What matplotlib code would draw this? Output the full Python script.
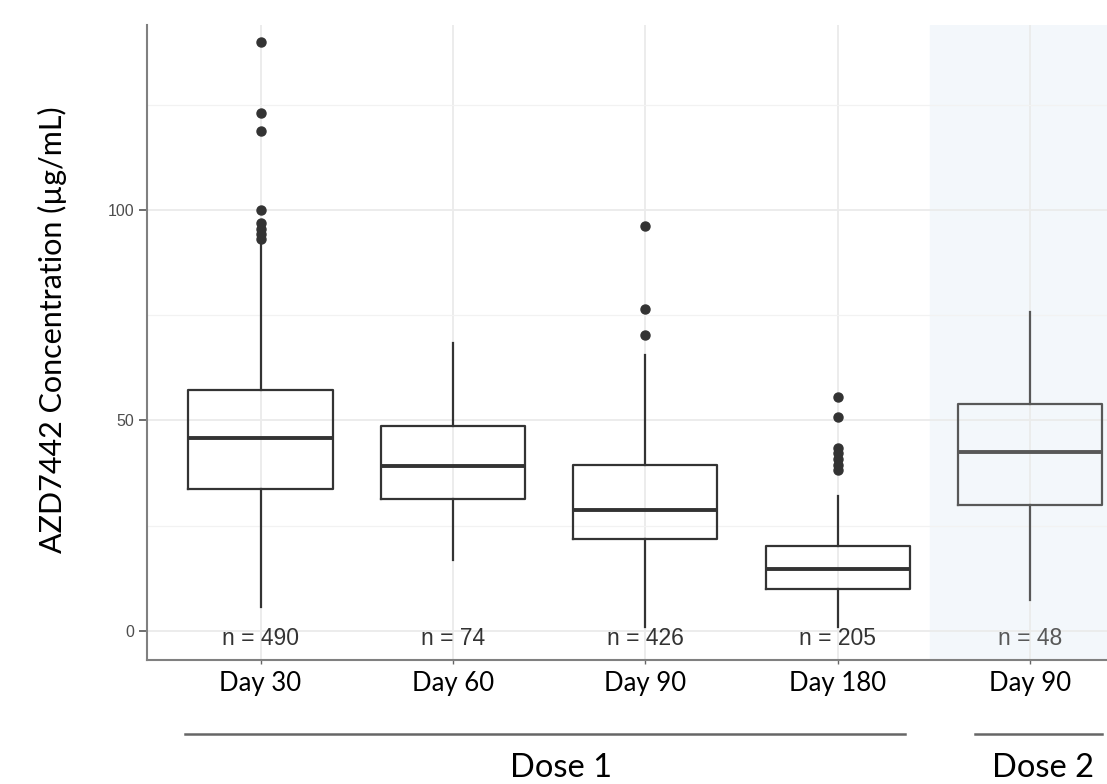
import matplotlib
matplotlib.use("Agg")
import matplotlib.pyplot as plt
from matplotlib.lines import Line2D

# -----------------------------
# Data
# -----------------------------
labels = ["Day 30", "Day 60", "Day 90", "Day 180", "Day 90"]
n_counts = [490, 74, 426, 205, 48]
q1 = [33.7, 31.4, 21.9, 9.9, 29.9]
med = [45.8, 39.2, 28.7, 14.8, 42.5]
q3 = [57.3, 48.7, 39.5, 20.1, 53.8]
whislo = [5.8, 16.9, 0.9, 1.0, 7.4]
whishi = [92.3, 68.3, 65.5, 32.1, 75.7]
fliers = [
    [139.9, 122.9, 118.7, 99.9, 96.9, 95.5, 94.2, 93.1],
    [],
    [96.2, 76.4, 70.3],
    [55.5, 50.9, 43.5, 42.2, 40.9, 39.5, 38.2],
    [],
]
groups = ["Dose 1", "Dose 2"]

# -----------------------------
# Figure
# -----------------------------
W, H = 1107, 784
fig = plt.figure(figsize=(W / 100, H / 100), dpi=100)
ax = fig.add_axes([147 / W, 1 - 660 / H, 1 - 147 / W, (660 - 25) / H])

positions = list(range(1, len(labels) + 1))
stats = []
for i in range(len(labels)):
    stats.append(dict(q1=q1[i], med=med[i], q3=q3[i], whislo=whislo[i],
                      whishi=whishi[i], fliers=fliers[i]))

dark = "#333333"
soft = "#585858"
for i, st in enumerate(stats):
    c = dark if i < 4 else soft
    ax.bxp([st], positions=[positions[i]], widths=0.75, showcaps=False,
           boxprops=dict(color=c, lw=1.6),
           whiskerprops=dict(color=c, lw=1.6),
           medianprops=dict(color=c, lw=2.8),
           flierprops=dict(marker="o", markerfacecolor=dark, markeredgecolor=dark,
                           markersize=6.5, linestyle="none"))

# shaded Dose 2 region
ax.axvspan(4.48, 6, color="#f3f7fb", zorder=0.1)

ax.set_xlim(0.41, 5.40)
ax.set_ylim(-6.9, 143.9)

ax.set_axisbelow(True)
ax.set_yticks([0, 50, 100])
ax.set_yticks([25, 75, 125], minor=True)
ax.grid(which="major", color="#ebebeb", lw=1.3)
ax.grid(which="minor", axis="y", color="#f2f2f2", lw=0.9)

ax.set_xticks(positions)
ax.set_xticklabels(labels, fontsize=18.5, family="Lato", color="black")
ax.tick_params(axis="x", length=3, width=1, color="#666666", pad=5)
ax.tick_params(axis="y", which="major", length=6, width=1.2, color="#555555",
               labelsize=11.5, labelcolor="#4d4d4d", pad=3)
ax.tick_params(axis="y", which="minor", length=0)
for lab in ax.get_yticklabels():
    lab.set_family("Liberation Sans")

for side in ["top", "right"]:
    ax.spines[side].set_visible(False)
for side in ["left", "bottom"]:
    ax.spines[side].set_color("#808080")
    ax.spines[side].set_linewidth(1.5)

fig.text(52 / W, 1 - 330 / H, "AZD7442 Concentration (µg/mL)", rotation=90,
         ha="center", va="center", fontsize=22, family="Lato")

# sample sizes
for i, n in enumerate(n_counts):
    ax.text(positions[i], -1.9, f"n = {n}", ha="center", va="center", fontsize=16.5,
            family="Liberation Sans", color=dark if i < 4 else soft)

# group brackets below the axis
line_y = 1 - 734 / H
text_y = 1 - 768 / H
spans = [(185, 905), (975, 1102)]
text_x = [561, 1043]
for g, (x0, x1), tx in zip(groups, spans, text_x):
    fig.add_artist(Line2D([x0 / W, x1 / W], [line_y, line_y], color="#666666", lw=1.8,
                          transform=fig.transFigure))
    fig.text(tx / W, text_y, g, ha="center", va="center", fontsize=23.5, family="Lato")

fig.savefig("out.png", dpi=100)
